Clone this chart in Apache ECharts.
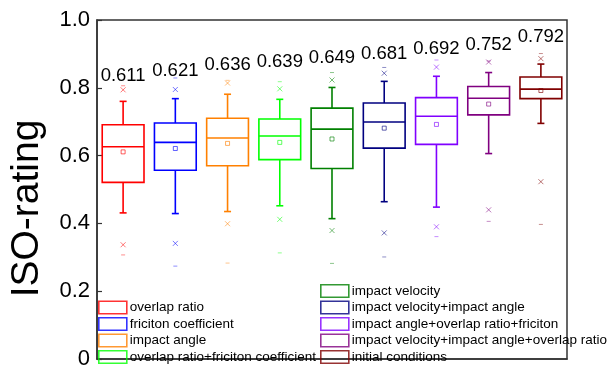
<!DOCTYPE html>
<html>
<head>
<meta charset="utf-8">
<script src="https://cdn.jsdelivr.net/npm/echarts@6/dist/echarts.min.js"></script>
<style>html,body{margin:0;padding:0;background:#fff}#c{width:609px;height:370px}</style>
</head>
<body>
<div id="c"></div>
<script>
const categories = [
  'overlap ratio',
  'friciton coefficient',
  'impact angle',
  'overlap ratio+friciton coefficient',
  'impact velocity',
  'impact velocity+impact angle',
  'impact angle+overlap ratio+friciton',
  'impact velocity+impact angle+overlap ratio',
  'initial conditions'
];
const colors = ['#FF0000', '#0000FF', '#FF8000', '#00FF00', '#008000', '#000080', '#8000FF', '#800080', '#800000'];
const minValues      = [0.307, 0.274, 0.283, 0.313, 0.282, 0.301, 0.361, 0.406, 0.397];
const p1Values       = [0.337, 0.341, 0.399, 0.412, 0.379, 0.372, 0.390, 0.440, 0.523];
const lowerWhisker   = [0.431, 0.429, 0.435, 0.452, 0.414, 0.464, 0.448, 0.606, 0.695];
const q1Values       = [0.521, 0.557, 0.570, 0.588, 0.562, 0.622, 0.633, 0.720, 0.768];
const medianValues   = [0.626, 0.639, 0.652, 0.658, 0.678, 0.699, 0.716, 0.769, 0.796];
const q3Values       = [0.691, 0.696, 0.710, 0.708, 0.740, 0.755, 0.771, 0.804, 0.832];
const upperWhisker   = [0.760, 0.768, 0.781, 0.766, 0.801, 0.819, 0.834, 0.845, 0.870];
const p99Values      = [0.794, 0.795, 0.814, 0.797, 0.823, 0.843, 0.861, 0.876, 0.886];
const maxValues      = [0.806, 0.829, 0.822, 0.818, 0.845, 0.860, 0.882, 0.879, 0.901];
const meanValues     = [0.611, 0.621, 0.636, 0.639, 0.649, 0.681, 0.692, 0.752, 0.792];
const meanLabels     = ['0.611', '0.621', '0.636', '0.639', '0.649', '0.681', '0.692', '0.752', '0.792'];
const labelHeights   = [0.835, 0.849, 0.867, 0.875, 0.887, 0.899, 0.916, 0.928, 0.951];

const FONT = "'Liberation Sans', Arial, Helvetica, sans-serif";

function renderItem(params, api) {
  const i = api.value(0);
  const color = colors[i];
  const pt = v => api.coord([i, v]);
  const cx = pt(0)[0];
  const bw = api.size([1, 0])[0] * 0.8;
  const y = {
    min: pt(api.value(1))[1], p1: pt(api.value(2))[1], lw: pt(api.value(3))[1],
    q1: pt(api.value(4))[1], med: pt(api.value(5))[1], q3: pt(api.value(6))[1],
    uw: pt(api.value(7))[1], p99: pt(api.value(8))[1], max: pt(api.value(9))[1],
    mean: pt(api.value(10))[1], lab: pt(api.value(11))[1]
  };
  const lw = 1.6;
  const cap = 3.5;
  const line = (x1, y1, x2, y2, w, op) => ({
    type: 'line', shape: {x1, y1, x2, y2},
    style: {stroke: color, lineWidth: w, opacity: op == null ? 1 : op}
  });
  const cross = (yy) => [
    line(cx - 2.5, yy - 2.5, cx + 2.5, yy + 2.5, 0.9, 0.6),
    line(cx - 2.5, yy + 2.5, cx + 2.5, yy - 2.5, 0.9, 0.6)
  ];
  const children = [
    {type: 'rect', shape: {x: cx - bw / 2, y: y.q3, width: bw, height: y.q1 - y.q3},
     style: {fill: 'none', stroke: color, lineWidth: lw}},
    line(cx - bw / 2, y.med, cx + bw / 2, y.med, lw),
    line(cx, y.q3, cx, y.uw, lw),
    line(cx, y.q1, cx, y.lw, lw),
    line(cx - cap, y.uw, cx + cap, y.uw, lw),
    line(cx - cap, y.lw, cx + cap, y.lw, lw),
    line(cx - 2, y.min, cx + 2, y.min, 0.9, 0.5),
    line(cx - 2, y.max, cx + 2, y.max, 0.9, 0.5),
    ...cross(y.p1),
    ...cross(y.p99),
    {type: 'rect', shape: {x: cx - 2, y: y.mean - 2, width: 4, height: 4},
     style: {fill: 'none', stroke: color, lineWidth: 0.9, opacity: 0.7}},
    {type: 'text', x: cx, y: y.lab,
     style: {text: meanLabels[i], align: 'center', verticalAlign: 'middle',
             fontSize: 18.5, fontFamily: FONT, fill: '#000'}}
  ];
  return {type: 'group', children};
}

const series = categories.map((name, i) => ({
  name,
  type: 'custom',
  renderItem,
  itemStyle: {color: colors[i]},
  encode: {x: 0, y: [1, 9]},
  data: [[i, minValues[i], p1Values[i], lowerWhisker[i], q1Values[i], medianValues[i],
          q3Values[i], upperWhisker[i], p99Values[i], maxValues[i], meanValues[i], labelHeights[i]]],
  z: 3
}));

const legendItem = (name) => {
  const i = categories.indexOf(name);
  return {name, itemStyle: {color: 'rgba(255,255,255,0)', borderColor: colors[i], borderWidth: 1.6, opacity: 0.8}};
};
const legendCommon = {
  orient: 'vertical', icon: 'rect', itemWidth: 28, itemHeight: 12.5, itemGap: 2.4,
  padding: 0, selectedMode: false, height: 120, width: 300,
  textStyle: {fontSize: 13.5, lineHeight: 14, fontFamily: FONT, color: '#000', padding: [0, 0, 0, -2]}
};

const chart = echarts.init(document.getElementById('c'), null, {renderer: 'canvas'});
chart.setOption({
  animation: false,
  backgroundColor: '#fff',
  grid: {left: 97, right: 42, top: 20, bottom: 5, show: true, borderColor: '#333', borderWidth: 1.5, backgroundColor: 'transparent'},
  xAxis: {
    type: 'category', data: categories, boundaryGap: true,
    axisLine: {lineStyle: {color: '#333', width: 1.5}},
    axisTick: {show: false}, axisLabel: {show: false}, splitLine: {show: false}
  },
  yAxis: {
    type: 'value', min: 0, max: 1, interval: 0.2,
    name: 'ISO-rating', nameLocation: 'middle', nameGap: 50,
    nameTextStyle: {fontSize: 39, fontFamily: FONT, color: '#000', padding: [0, 38, 0, 0]},
    axisLine: {show: true, lineStyle: {color: '#333', width: 1.5}},
    axisTick: {show: true, inside: true, length: 5, lineStyle: {color: '#333', width: 1.2}},
    axisLabel: {fontSize: 22, fontFamily: FONT, color: '#000', margin: 7,
      formatter: v => (v === 0 ? '0' : v.toFixed(1))},
    splitLine: {show: false}
  },
  legend: [
    Object.assign({left: 98, top: 300.5, data: categories.slice(0, 4).map(legendItem)}, legendCommon),
    Object.assign({left: 320, top: 284, data: categories.slice(4).map(legendItem)}, legendCommon)
  ],
  series
});
</script>
</body>
</html>
